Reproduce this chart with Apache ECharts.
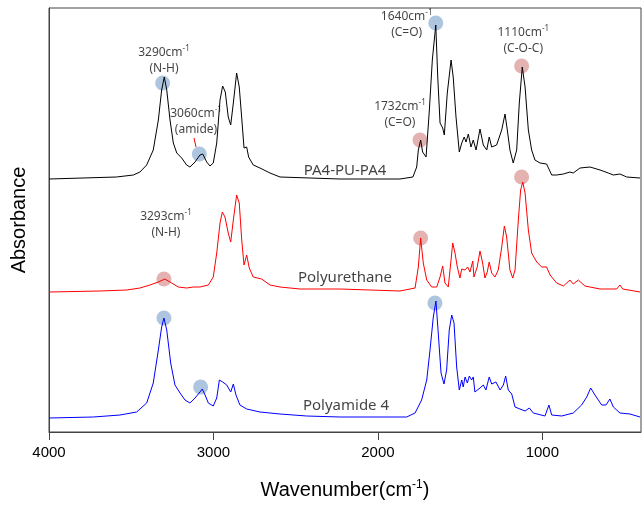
<!DOCTYPE html>
<html>
<head>
<meta charset="utf-8">
<script src="https://cdn.jsdelivr.net/npm/echarts@6/dist/echarts.min.js"></script>
<style>html,body{margin:0;padding:0;background:#fff}#c{width:644px;height:510px}</style>
</head>
<body>
<div id="c"></div>
<script>
// ---- data (wavenumber, absorbance as displayed, stacked) ----
const wnA = [4000,3590,3487,3447,3406,3366,3335,3315,3299,3284,3264,3244,3223,3193,3163,3143,3112,3082,3065,3041,3021,3001,2980,2960,2944,2928,2910,2895,2879,2859,2843,2828,2814,2798,2786,2758,2717,2656,2595,2230,1866,1787,1764,1754,1740,1728,1707,1687,1669,1648,1636,1622,1606,1596,1578,1555,1542,1525,1505,1490,1475,1464,1450,1434,1420,1403,1379,1359,1338,1323,1308,1278,1247,1227,1213,1197,1177,1156,1140,1122,1105,1085,1065,1045,1014,974,943,913,872,832,812,771,710,649,599,568,528,487,406];
const absA = [2.53,2.55,2.57,2.60,2.67,2.82,3.12,3.42,3.55,3.42,3.12,2.89,2.79,2.74,2.67,2.65,2.70,2.77,2.78,2.70,2.66,2.69,2.89,3.32,3.46,3.40,3.15,3.07,3.29,3.59,3.45,3.14,2.84,2.85,2.75,2.67,2.64,2.59,2.55,2.53,2.53,2.55,2.65,2.82,2.92,2.80,2.75,3.22,3.72,4.07,3.55,3.09,3.04,2.97,3.39,3.72,3.55,3.15,2.80,2.89,2.95,2.90,2.98,2.85,2.92,2.82,3.03,2.87,2.82,2.95,2.85,2.87,3.02,3.18,3.02,2.82,2.69,2.82,3.29,3.65,3.45,3.02,2.82,2.72,2.69,2.68,2.57,2.57,2.58,2.60,2.59,2.64,2.65,2.62,2.59,2.57,2.58,2.55,2.54];

const wnB = [4000,3690,3527,3447,3386,3335,3295,3254,3214,3163,3122,3082,3031,3001,2980,2960,2946,2930,2910,2895,2879,2859,2843,2828,2814,2798,2782,2758,2707,2656,2595,2474,2230,1866,1774,1754,1740,1724,1703,1673,1642,1622,1606,1592,1572,1557,1545,1531,1517,1501,1490,1470,1454,1440,1423,1416,1396,1379,1363,1349,1335,1323,1308,1288,1268,1247,1231,1217,1197,1180,1166,1146,1132,1119,1105,1085,1065,1034,1004,974,953,913,872,832,812,781,741,649,548,528,511,406];
const absB = [1.40,1.41,1.42,1.44,1.47,1.50,1.53,1.49,1.45,1.44,1.45,1.45,1.47,1.55,1.79,2.09,2.20,2.15,1.99,1.90,2.12,2.37,2.29,1.92,1.67,1.77,1.64,1.55,1.53,1.47,1.45,1.43,1.43,1.41,1.44,1.65,1.94,1.69,1.52,1.45,1.45,1.55,1.66,1.49,1.45,1.69,1.89,1.79,1.65,1.54,1.63,1.62,1.65,1.60,1.71,1.55,1.65,1.81,1.69,1.54,1.60,1.70,1.59,1.55,1.62,1.85,2.06,1.95,1.62,1.54,1.62,2.12,2.42,2.50,2.39,2.02,1.79,1.70,1.65,1.65,1.57,1.49,1.46,1.52,1.48,1.52,1.46,1.43,1.43,1.47,1.43,1.40];

const wnC = [4000,3731,3568,3467,3406,3366,3335,3315,3301,3284,3260,3234,3203,3173,3143,3112,3082,3068,3051,3031,3001,2980,2964,2944,2919,2895,2879,2863,2839,2798,2717,2595,2433,2230,1825,1774,1734,1703,1683,1663,1647,1633,1616,1598,1582,1566,1551,1537,1521,1505,1490,1481,1470,1456,1444,1430,1420,1410,1379,1359,1343,1323,1308,1282,1257,1237,1223,1207,1186,1166,1136,1105,1079,1055,984,960,943,882,812,761,730,706,680,639,613,589,568,528,467,406];
const absC = [0.14,0.15,0.17,0.20,0.29,0.49,0.82,1.05,1.14,1.02,0.69,0.47,0.39,0.32,0.29,0.34,0.40,0.43,0.37,0.29,0.26,0.34,0.52,0.50,0.47,0.40,0.48,0.37,0.27,0.23,0.20,0.18,0.16,0.15,0.15,0.19,0.32,0.52,0.82,1.15,1.31,0.99,0.59,0.48,0.62,1.02,1.17,1.09,0.65,0.42,0.52,0.45,0.55,0.49,0.56,0.52,0.55,0.40,0.44,0.47,0.42,0.55,0.48,0.50,0.42,0.47,0.56,0.42,0.38,0.25,0.23,0.21,0.24,0.19,0.16,0.27,0.17,0.16,0.19,0.27,0.35,0.44,0.37,0.27,0.27,0.33,0.25,0.19,0.18,0.15];

const seriesNames = ['PA4-PU-PA4', 'Polyurethane', 'Polyamide 4'];
const nameWn  = [2200, 2200, 2194];
const nameAbs = [2.61, 1.54, 0.26];

// tick labels
const xTicks = [1000, 2000, 3000, 4000];

// highlighted peaks
const blueMarkWn  = [3309, 3086, 1648, 3301, 3078, 1653];
const blueMarkAbs = [3.49, 2.78, 4.09, 1.14, 0.45, 1.29];
const redMarkWn   = [1744, 1126, 3301, 1740, 1126];
const redMarkAbs  = [2.92, 3.66, 1.53, 1.94, 2.55];

// annotations
const annoNum   = ['3290', '3060', '1640', '1732', '1110', '3293'];
const annoGroup = ['(N-H)', '(amide)', '(C=O)', '(C=O)', '(C-O-C)', '(N-H)'];
const annoWn    = [3301, 3106, 1825, 1866, 1116, 3289];
const annoAbs   = [3.715, 3.105, 4.07, 3.17, 3.91, 2.07];

// small red leader line for 3060
const leaderWn  = [3118, 3106];
const leaderAbs = [2.94, 2.85];

const zip = (a, b) => a.slice(0, Math.min(a.length, b.length)).map((v, i) => [v, b[i]]);

const chart = echarts.init(document.getElementById('c'), null, {renderer: 'canvas'});
const lineSeries = (name, wn, ab, color) => ({
  name, type: 'line', data: zip(wn, ab), symbol: 'none', z: 3,
  lineStyle: {color, width: 1}, itemStyle: {color}, animation: false, silent: true
});

const annoData = annoNum.map((n, i) => ({
  value: [annoWn[i], annoAbs[i]],
  label: {formatter: '{n|' + n + 'cm}{s|-1}\n{g|' + annoGroup[i] + '}'}
}));

const TXT = '#111';
const txtRich = {
  n: {fontSize: 12, color: TXT, fontFamily: 'Noto Sans', lineHeight: 16},
  s: {fontSize: 8, color: TXT, fontFamily: 'Noto Sans', verticalAlign: 'top', lineHeight: 16, padding: [0, 0, 6, 0]},
  g: {fontSize: 12, color: TXT, fontFamily: 'Noto Sans', lineHeight: 16}
};

const option = {
  animation: false,
  backgroundColor: '#fff',
  grid: {left: 49, right: 3, top: 8, bottom: 78, show: true, borderColor: '#444', borderWidth: 1},
  xAxis: {
    type: 'value', inverse: true, min: 400, max: 4000,
    axisLine: {show: true, lineStyle: {color: '#444', width: 1}},
    axisTick: {show: true, inside: false, length: 8, customValues: xTicks, lineStyle: {color: '#444'}},
    axisLabel: {customValues: xTicks, formatter: v => String(v), fontSize: 15, color: '#000', margin: 13, fontFamily: 'Liberation Sans'},
    splitLine: {show: false},
    name: '{t|Wavenumber(cm}{s|-1}{t|)}',
    nameLocation: 'middle', nameGap: 47,
    nameTextStyle: {
      rich: {
        t: {fontSize: 20, color: '#000', fontFamily: 'Liberation Sans'},
        s: {fontSize: 12, color: '#000', fontFamily: 'Liberation Sans', verticalAlign: 'top', padding: [0, 0, 10, 0]}
      }
    }
  },
  yAxis: {
    type: 'value', min: 0, max: 4.24,
    axisLine: {show: true, lineStyle: {color: '#444'}},
    axisTick: {show: false}, axisLabel: {show: false}, splitLine: {show: false},
    name: 'Absorbance', nameLocation: 'middle', nameGap: 20,
    nameTextStyle: {fontSize: 20, color: '#000', fontFamily: 'Liberation Sans'}
  },
  series: [
    {type: 'scatter', name: 'bluemarks', data: zip(blueMarkWn, blueMarkAbs), symbolSize: 15, z: 1, silent: true,
      itemStyle: {color: 'rgba(79,129,189,0.58)'}},
    {type: 'scatter', name: 'redmarks', data: zip(redMarkWn, redMarkAbs), symbolSize: 15, z: 1, silent: true,
      itemStyle: {color: 'rgba(192,80,77,0.55)'}},
    lineSeries(seriesNames[0], wnA, absA, '#000000'),
    lineSeries(seriesNames[1], wnB, absB, '#ff0000'),
    lineSeries(seriesNames[2], wnC, absC, '#0000ff'),
    {type: 'line', name: 'leader', data: zip(leaderWn, leaderAbs), symbol: 'none', silent: true,
      lineStyle: {color: '#ff0000', width: 1}},
    {type: 'scatter', name: 'annotations', data: annoData, symbolSize: 0, silent: true, z: 5,
      label: {show: true, position: 'inside', align: 'center', verticalAlign: 'middle', rich: txtRich}},
    {type: 'scatter', name: 'names', symbolSize: 0, silent: true, z: 5,
      data: seriesNames.map((n, i) => ({value: [nameWn[i], nameAbs[i]], label: {formatter: n}})),
      label: {show: true, position: 'inside', fontSize: 15, color: '#111', fontFamily: 'Noto Sans'}}
  ]
};
chart.setOption(option);
</script>
</body>
</html>
